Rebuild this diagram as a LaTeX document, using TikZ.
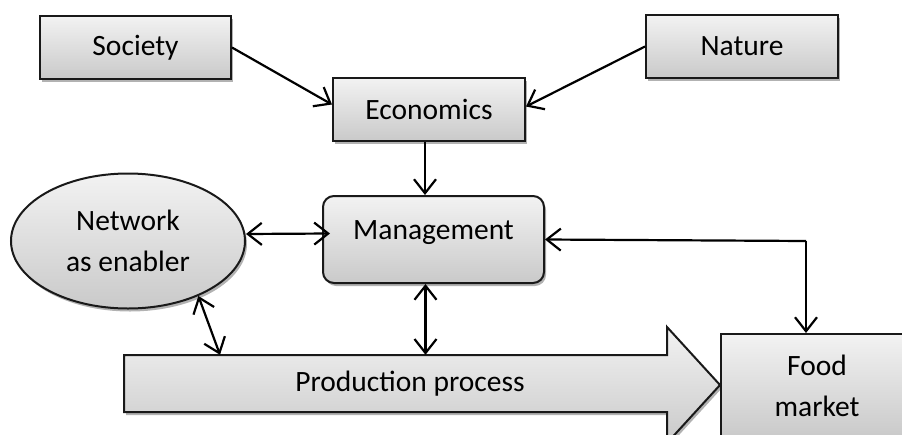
\documentclass[tikz,border=0pt]{standalone}
\usepackage{fontspec}
\setmainfont{Carlito}
\usetikzlibrary{arrows.meta,shapes.geometric,shadows,backgrounds}

\begin{document}
\begin{tikzpicture}[x=1pt,y=-1pt,
    box/.style={draw=black!90, line width=2pt, top color=gray!10, bottom color=gray!42,
        drop shadow={shadow xshift=2pt, shadow yshift=-3pt, opacity=0.3, fill=black},
        inner sep=0pt, font=\fontsize{29.5}{41}\selectfont, align=center},
    link/.style={line width=2.2pt, -{Straight Barb[length=14pt,width=22pt]}},
    both/.style={line width=2.2pt, {Straight Barb[length=14pt,width=22pt]}-{Straight Barb[length=14pt,width=22pt]}}]
    \useasboundingbox (0,0) rectangle (902,434);

    % Top row
    \node[box, minimum width=191pt, minimum height=63pt] (society) at (135.5,47.5) {Society};
    \node[box, minimum width=192pt, minimum height=63pt] (nature) at (742,46.5) {Nature};
    \node[box, minimum width=192pt, minimum height=63pt] (economics) at (429,109.5) {Economics};

    % Middle row
    \node[box, rounded corners=11pt, minimum width=221pt, minimum height=87pt,
        text height=12pt, text depth=12pt] (management) at (433.5,239.5) {Management};
    \node[box, ellipse, minimum width=234pt, minimum height=135pt] (network) at (128,241) {Network\\as enabler};

    % Bottom row
    \node[box, minimum width=192pt, minimum height=104pt] (market) at (817,386) {Food\\market};
    \node[font=\fontsize{29.5}{41}\selectfont, inner sep=0pt, minimum height=57pt] (production) at (410,383.5) {Production process};
    \begin{pgfonlayer}{background}
        \path[box] (124,355) -- (667,355) -- (667,327) -- (720,385)
            -- (667,443) -- (667,412) -- (124,412) -- cycle;
    \end{pgfonlayer}

    % Arrows
    \draw[link] (society.east) -- ([yshift=5pt]economics.west);
    \draw[link] (nature.west) -- ([yshift=3pt]economics.east);
    \draw[link] ([xshift=-4pt]economics.south) -- ([xshift=-4pt]economics.south |- management.north);
    \draw[both] ([yshift=7pt]network.east) -- ([xshift=8pt,yshift=6pt]management.west);
    \draw[both] (network.-38) -- (220,0 |- production.north);
    \draw[both] ([xshift=-8pt]management.south) -- ([xshift=-8pt]management.south |- production.north);
    \coordinate (corner) at (806,241);
    \draw[link] (corner) -- (management.east);
    \draw[link] (corner) -- (corner |- market.north);
\end{tikzpicture}
\end{document}
